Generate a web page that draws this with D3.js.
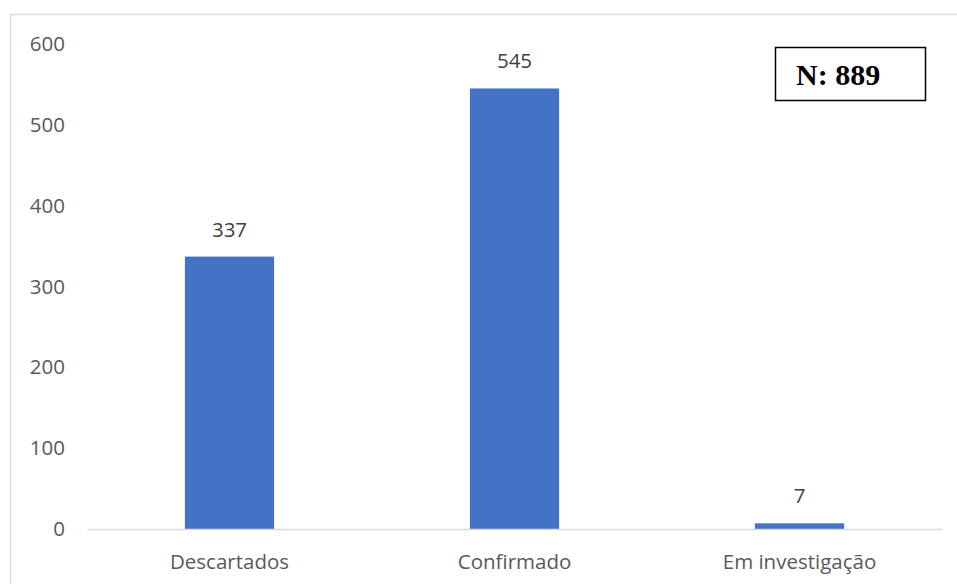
<!DOCTYPE html>
<html>
<head>
<meta charset="utf-8">
<script src="https://cdn.jsdelivr.net/npm/d3@7"></script>
<style>
  html, body { margin: 0; padding: 0; background: #fff; }
  svg { display: block; }
</style>
</head>
<body>
<svg id="chart" width="957" height="584"></svg>
<script>
// Case classification counts
const categories = ["Descartados", "Confirmado", "Em investigação"];
const values = [337, 545, 7];
const yTicks = [0, 100, 200, 300, 400, 500, 600];
const totalLabel = "N: 889";

const margin = { top: 44, left: 87 };
const plotRight = 942, plotBottom = 529;

const svg = d3.select("#chart");

// outer chart frame (light grey, runs off the right/bottom edge)
svg.append("rect")
  .attr("x", 10.5).attr("y", 14.5)
  .attr("width", 960).attr("height", 600)
  .attr("fill", "none")
  .attr("stroke", "#d9d9d9")
  .attr("stroke-width", 1.5);

const x = d3.scaleBand()
  .domain(categories)
  .range([margin.left, plotRight])
  .padding(0);

const y = d3.scaleLinear()
  .domain([0, 600])
  .range([plotBottom, margin.top]);

const barW = x.bandwidth() * 0.313;
const font = "'Open Sans', 'Liberation Sans', sans-serif";

// y axis labels (no axis line, no tick marks)
const yAxis = d3.axisLeft(y).tickValues(yTicks).tickSize(0).tickPadding(22);
const gy = svg.append("g")
  .attr("transform", `translate(${margin.left},0)`)
  .call(yAxis);
gy.select(".domain").remove();
gy.selectAll("text")
  .attr("font-family", font)
  .attr("font-size", 20.5)
  .attr("fill", "#595959");

// bars
svg.append("g").selectAll("rect")
  .data(categories)
  .join("rect")
  .attr("x", (d) => x(d) + x.bandwidth() / 2 - barW / 2)
  .attr("y", (d, i) => y(values[i]))
  .attr("width", barW)
  .attr("height", (d, i) => y(0) - y(values[i]))
  .attr("fill", "#4472C4");

// x axis baseline and category labels
const xAxis = d3.axisBottom(x).tickSize(0).tickPadding(25);
const gx = svg.append("g")
  .attr("transform", `translate(0,${plotBottom})`)
  .call(xAxis);
gx.select(".domain")
  .attr("stroke", "#d9d9d9")
  .attr("stroke-width", 1.5);
gx.selectAll("text")
  .attr("font-family", font)
  .attr("font-size", 20.5)
  .attr("fill", "#595959");

// value labels above bars
svg.append("g").selectAll("text")
  .data(categories)
  .join("text")
  .attr("x", (d) => x(d) + x.bandwidth() / 2)
  .attr("y", (d, i) => y(values[i]) - 20)
  .attr("text-anchor", "middle")
  .attr("font-family", font)
  .attr("font-size", 20.5)
  .attr("fill", "#404040")
  .text((d, i) => values[i]);

// total count box
svg.append("rect")
  .attr("x", 775.5).attr("y", 47.5)
  .attr("width", 150).attr("height", 53)
  .attr("fill", "#fff")
  .attr("stroke", "#000")
  .attr("stroke-width", 1.5);
svg.append("text")
  .attr("x", 796).attr("y", 85)
  .attr("font-family", "'Liberation Serif', 'DejaVu Serif', serif")
  .attr("font-weight", "bold")
  .attr("font-size", 30)
  .attr("fill", "#000")
  .text(totalLabel);
</script>
</body>
</html>
